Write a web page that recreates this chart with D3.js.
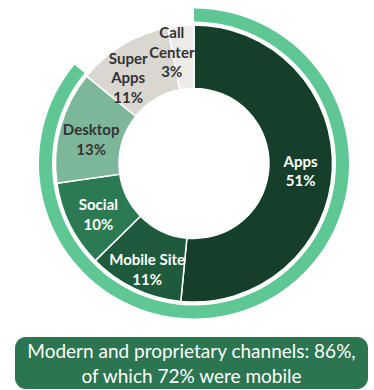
<!DOCTYPE html>
<html>
<head>
<meta charset="utf-8">
<script src="https://cdn.jsdelivr.net/npm/d3@7"></script>
<style>
  html, body { margin: 0; padding: 0; background: #ffffff; }
  svg { display: block; }
</style>
</head>
<body>
<svg id="chart" width="374" height="390"></svg>
<script>
// Channel mix (share of transactions, %)
const channels = ["Apps", "Mobile Site", "Social", "Desktop", "Super Apps", "Call Center"];
const shares   = [51, 11, 10, 13, 11, 3];
const labelLines = [["Apps"], ["Mobile Site"], ["Social"], ["Desktop"], ["Super", "Apps"], ["Call", "Center"]];
const sliceColors = ["#153f2a", "#1f5a3c", "#2b7a54", "#7db79a", "#dad7d1", "#ecebe8"];
const labelColors = ["#ffffff", "#ffffff", "#ffffff", "#333333", "#333333", "#333333"];

// Outer highlight ring: modern and proprietary channels
const modernShare = 86;
const summaryLines = ["Modern and proprietary channels: 86%,", "of which 72% were mobile"];

const svg = d3.select("#chart");
const cx = 194, cy = 163.5;
const rInner = 75, rOuter = 138.5;
const ringInner = 142, ringOuter = 155;

const g = svg.append("g").attr("transform", `translate(${cx},${cy})`);

// Outer ring
const ringScale = d3.scaleLinear().domain([0, 100]).range([0, 2 * Math.PI]);
g.append("path")
  .attr("d", d3.arc()({
    innerRadius: ringInner, outerRadius: ringOuter,
    startAngle: ringScale(0), endAngle: ringScale(modernShare)
  }))
  .attr("fill", "#5fc794");

// Doughnut slices
const pie = d3.pie().sort(null).value(d => d.value);
const data = channels.map((c, i) => ({ name: c, value: shares[i], idx: i }));
const arcs = pie(data);
const arc = d3.arc().innerRadius(rInner).outerRadius(rOuter);

g.selectAll("path.slice")
  .data(arcs)
  .join("path")
  .attr("class", "slice")
  .attr("d", arc)
  .attr("fill", d => sliceColors[d.data.idx])
  .attr("stroke", "#ffffff")
  .attr("stroke-width", 1.5);

// Label nudges from the slice centroid (layout only)
const nudge = {
  "Apps": [0, 3], "Mobile Site": [-1, 10], "Social": [0, 4],
  "Desktop": [0, 5], "Super Apps": [-11, 6.5], "Call Center": [-12, -4.5]
};
const lh = 19.5;
arcs.forEach(a => {
  const i = a.data.idx;
  const [x0, y0] = arc.centroid(a);
  const [dx, dy] = nudge[a.data.name];
  const lines = labelLines[i].concat([shares[i] + "%"]);
  const t = g.append("text")
    .attr("text-anchor", "middle")
    .attr("font-family", "Lato, 'Open Sans', sans-serif")
    .attr("font-weight", 700)
    .attr("font-size", 15)
    .attr("fill", labelColors[i]);
  lines.forEach((ln, k) => {
    t.append("tspan")
      .attr("x", x0 + dx)
      .attr("y", y0 + dy + (k - (lines.length - 1) / 2) * lh + 5)
      .text(ln);
  });
});

// Summary box
svg.append("rect")
  .attr("x", 15).attr("y", 337)
  .attr("width", 353).attr("height", 52)
  .attr("rx", 11).attr("ry", 11)
  .attr("fill", "#2b7550");

const st = svg.append("text")
  .attr("text-anchor", "middle")
  .attr("font-family", "Lato, 'Open Sans', sans-serif")
  .attr("font-size", 19)
  .attr("fill", "#ffffff");
summaryLines.forEach((ln, k) => {
  st.append("tspan").attr("x", 191.5).attr("y", 358 + k * 25).text(ln);
});
</script>
</body>
</html>
